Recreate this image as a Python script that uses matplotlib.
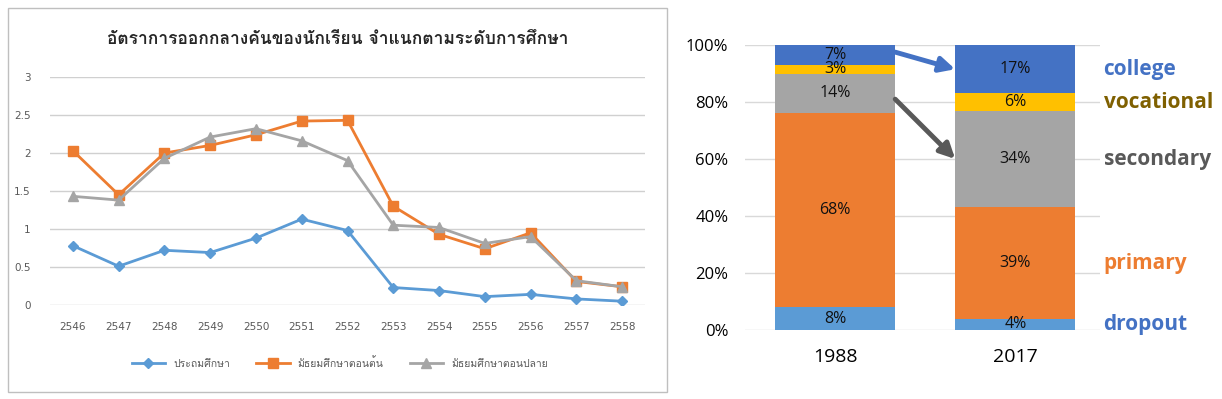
import matplotlib
matplotlib.use("Agg")
import matplotlib.pyplot as plt
import numpy as np
from matplotlib import font_manager
from matplotlib.ft2font import FT2Font
from matplotlib.patches import Rectangle

# ---- data: left line chart ----
years_th = ['2546', '2547', '2548', '2549', '2550', '2551', '2552',
            '2553', '2554', '2555', '2556', '2557', '2558']
primary_rate = [0.78, 0.51, 0.72, 0.69, 0.88, 1.13, 0.98, 0.23, 0.19, 0.11, 0.14, 0.08, 0.05]
lower_sec_rate = [2.03, 1.45, 2.00, 2.10, 2.24, 2.42, 2.43, 1.30, 0.93, 0.74, 0.95, 0.31, 0.24]
upper_sec_rate = [1.43, 1.38, 1.93, 2.21, 2.32, 2.16, 1.90, 1.05, 1.02, 0.81, 0.90, 0.32, 0.24]
series_names = ['ประถมศึกษา', 'มัธยมศึกษาตอนต้น', 'มัธยมศึกษาตอนปลาย']
title_th = 'อัตราการออกกลางคันของนักเรียน จำแนกตามระดับการศึกษา'

# ---- data: right stacked bars ----
bar_years = ['1988', '2017']
levels = ['dropout', 'primary', 'secondary', 'vocational', 'college']
shares = {
    'dropout':    [8, 4],
    'primary':    [68, 39],
    'secondary':  [14, 34],
    'vocational': [3, 6],
    'college':    [7, 17],
}

seg_colors = {'dropout': '#5B9BD5', 'primary': '#ED7D31', 'secondary': '#A5A5A5',
              'vocational': '#FFC000', 'college': '#4472C4'}
label_colors = {'dropout': '#4472C4', 'primary': '#ED7D31', 'secondary': '#595959',
                'vocational': '#7F6000', 'college': '#4472C4'}

# find a font that has Thai glyphs, if any is installed
thai_family = None
for f in font_manager.fontManager.ttflist:
    try:
        if 0x0E2D in FT2Font(f.fname).get_charmap():
            thai_family = f.name
            break
    except Exception:
        pass
thai_fonts = [thai_family, 'DejaVu Sans'] if thai_family else ['DejaVu Sans']

fig = plt.figure(figsize=(12.22, 3.99), dpi=100)
W, H = 1222, 399

# box around left chart
fig.patches.append(Rectangle((8 / W, 1 - 392 / H), 659 / W, 384 / H, transform=fig.transFigure,
                             fill=False, edgecolor='#BFBFBF', linewidth=1))

# ---- left chart ----
ax1 = fig.add_axes([50 / W, 1 - 305 / H, 595 / W, 228 / H])
x = np.arange(len(years_th))
l1, = ax1.plot(x, primary_rate, color='#5B9BD5', lw=2, marker='D', ms=5.5)
l2, = ax1.plot(x, lower_sec_rate, color='#ED7D31', lw=2, marker='s', ms=7)
l3, = ax1.plot(x, upper_sec_rate, color='#A5A5A5', lw=2, marker='^', ms=7)
ax1.set_xlim(-0.5, len(years_th) - 0.5)
ax1.set_ylim(0, 3)
ax1.set_yticks([0, 0.5, 1, 1.5, 2, 2.5, 3])
ax1.set_yticklabels(['0', '0.5', '1', '1.5', '2', '2.5', '3'])
ax1.set_xticks(x)
ax1.set_xticklabels(years_th)
ax1.tick_params(length=0, labelsize=7.5, labelcolor='#595959', pad=12)
ax1.tick_params(axis='y', pad=14)
ax1.grid(axis='y', color='#D0D0D0', lw=1)
ax1.set_axisbelow(True)
for s in ax1.spines.values():
    s.set_visible(False)
fig.text(338 / W, 1 - 40 / H, title_th, ha='center', va='center', fontsize=12.5,
         fontweight='bold', family=thai_fonts, color='#262626')
fig.legend([l1, l2, l3], series_names, loc='center', bbox_to_anchor=(340 / W, 1 - 363 / H),
           ncol=3, frameon=False, handlelength=3.2, columnspacing=2.5,
           prop={'family': thai_fonts, 'size': 7.5}, labelcolor='#595959')

# ---- right chart ----
ax2 = fig.add_axes([745 / W, 1 - 330 / H, 355 / W, 285 / H])
bx = np.arange(len(bar_years))
bottom = np.zeros(len(bar_years))
mids = {}
for lev in levels:
    vals = np.array(shares[lev]) / 100
    ax2.bar(bx, vals, bottom=bottom, width=0.667, color=seg_colors[lev], zorder=2)
    mids[lev] = bottom + vals / 2
    for i, v in enumerate(vals):
        ax2.text(bx[i], bottom[i] + v / 2, f'{shares[lev][i]}%', ha='center', va='center',
                 fontsize=11.5, family='Open Sans', color='#111111', zorder=3)
    bottom = bottom + vals

ax2.set_xlim(-0.5, 1.47)
ax2.set_ylim(0, 1)
ax2.set_yticks(np.arange(0, 1.01, 0.2))
ax2.set_yticklabels([f'{int(round(t * 100))}%' for t in np.arange(0, 1.01, 0.2)])
ax2.set_xticks(bx)
ax2.set_xticklabels(bar_years)
ax2.tick_params(length=0)
ax2.tick_params(axis='y', labelsize=12, pad=12)
ax2.tick_params(axis='x', labelsize=14, pad=13)
for lbl in ax2.get_yticklabels() + ax2.get_xticklabels():
    lbl.set_family('Open Sans')
ax2.grid(axis='y', color='#D9D9D9', lw=1, zorder=0)
ax2.set_axisbelow(True)
for s in ax2.spines.values():
    s.set_visible(False)

# arrows between the bars
half = 0.667 / 2
ax2.annotate('', xy=(1 - half, mids['college'][1]), xytext=(half, mids['college'][0] + 0.01),
             arrowprops=dict(arrowstyle='-|>,head_length=0.9,head_width=0.45',
                             color='#4472C4', lw=3.5, shrinkA=0, shrinkB=0), zorder=4)
ax2.annotate('', xy=(1 - half, mids['secondary'][1]), xytext=(half, mids['secondary'][0] - 0.02),
             arrowprops=dict(arrowstyle='-|>,head_length=0.9,head_width=0.45',
                             color='#595959', lw=3.5, shrinkA=0, shrinkB=0), zorder=4)

# labels right of the 2017 bar
for lev in levels:
    ax2.text(1.49, mids[lev][1], lev, ha='left', va='center', fontsize=15, fontweight='bold',
             family='Open Sans', color=label_colors[lev], clip_on=False)

fig.savefig('out.png', dpi=100)
